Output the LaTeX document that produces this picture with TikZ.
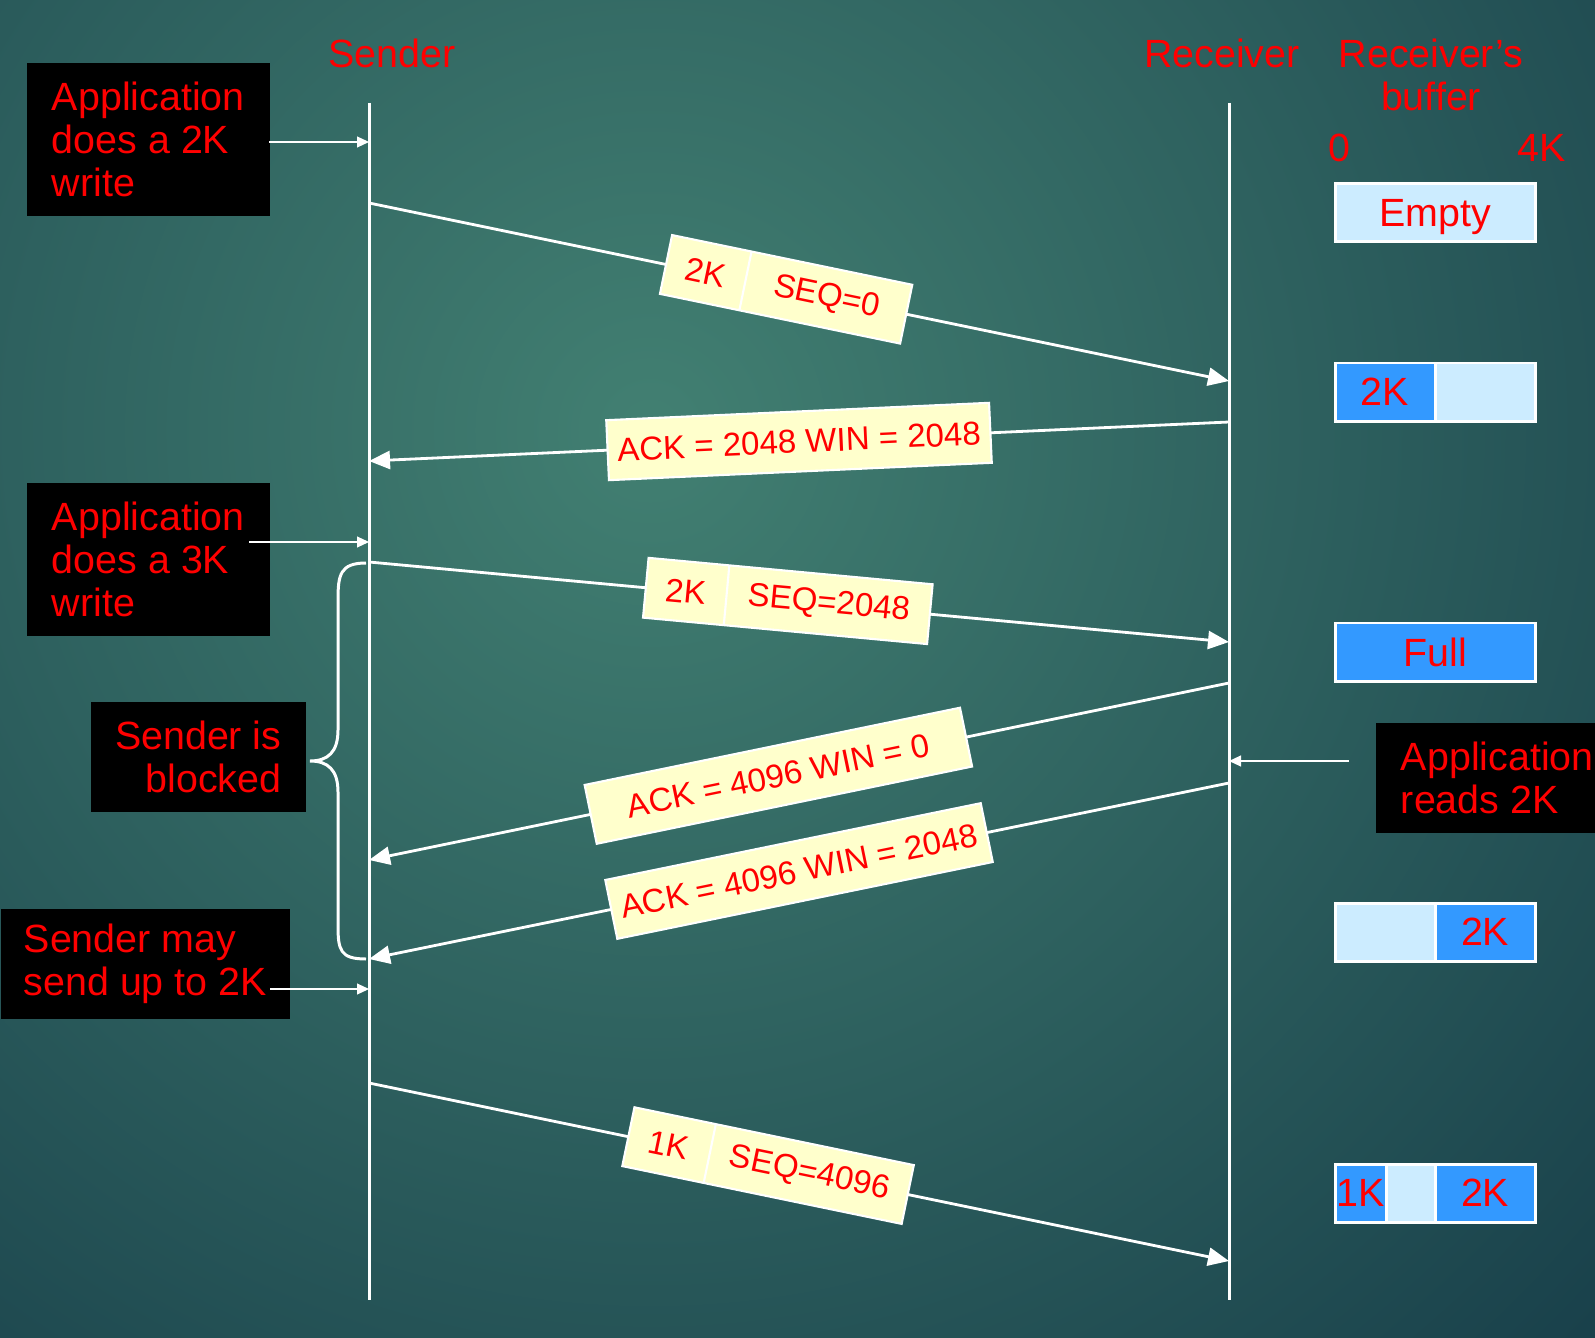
\documentclass[tikz,border=0pt]{standalone}
\usepackage{fontspec}
\setmainfont{Liberation Sans}
\usepackage{tikz}
\usetikzlibrary{arrows.meta,positioning,shapes.multipart}
\definecolor{bginner}{RGB}{66,128,114}
\definecolor{bgouter}{RGB}{22,60,72}
\definecolor{pktyellow}{RGB}{255,255,204}
\definecolor{bufempty}{RGB}{204,236,255}
\definecolor{buffull}{RGB}{51,153,255}
\newcommand{\bigfont}{\fontsize{11.2}{12.2}\selectfont}
\newcommand{\pktfont}{\fontsize{9.4}{10}\selectfont}
\tikzstyle{lifeline}=[white,line width=0.85pt]
\tikzstyle{msg}=[white,line width=0.8pt,-{Triangle[length=0.21cm,width=0.18cm]}]
\tikzstyle{apparrow}=[white,line width=0.3pt,-{Triangle[length=0.12cm,width=0.11cm]}]
\tikzstyle{appbox}=[fill=black,text=red,font=\bigfont,inner sep=0pt,anchor=north west]
\tikzstyle{heading}=[text=red,font=\bigfont,inner sep=0pt]
\tikzstyle{ackbox}=[fill=pktyellow,draw=white,line width=0.6pt,text=red,font=\pktfont,
                    inner sep=0pt,minimum width=3.83cm,minimum height=0.6cm,sloped]
\tikzstyle{pkt}=[rectangle split,rectangle split horizontal,rectangle split parts=2,
                 fill=pktyellow,draw=white,line width=0.6pt,text=red,font=\pktfont,
                 inner sep=0pt,minimum height=0.6cm,sloped]
\tikzstyle{bufcell}=[draw=white,line width=0.85pt,text=red,font=\bigfont,inner sep=0pt,
                     outer sep=0pt,text depth=0pt,minimum height=0.58cm,anchor=north west]

\begin{document}
\begin{tikzpicture}[x=0.01cm,y=-0.01cm]
  \useasboundingbox (0,0) rectangle (1595,1337);
  \clip (0,0) rectangle (1595,1337);
  \fill[bgouter] (0,0) rectangle (1595,1337);
  \shade[inner color=bginner,outer color=bgouter] (650,430) circle (14cm);

  % time lines
  \coordinate (sTop) at (369,103);
  \coordinate (sBot) at (369,1300);
  \coordinate (rTop) at (1229,103);
  \coordinate (rBot) at (1229,1300);
  \draw[lifeline] (sTop) -- (sBot);
  \draw[lifeline] (rTop) -- (rBot);

  \node[heading] (sendertitle) at (392,53) {Sender};
  \node[heading] (recvtitle) at (1222,53) {Receiver};
  \node[heading,align=center] (buftitle) at (1431,75) {Receiver’s\\buffer};
  \node[heading] (zero) at (1339,148) {0};
  \node[heading] (fourk) at (1542,148) {4K};

  % segments and acks
  \coordinate (m1s) at (369,203);  \coordinate (m1r) at (1229,381);
  \coordinate (m2r) at (1229,422); \coordinate (m2s) at (369,461);
  \coordinate (m3s) at (369,562);  \coordinate (m3r) at (1229,642);
  \coordinate (m4r) at (1229,683); \coordinate (m4s) at (369,860);
  \coordinate (m5r) at (1229,783); \coordinate (m5s) at (369,959);
  \coordinate (m6s) at (369,1083); \coordinate (m6r) at (1229,1261);

  \draw[msg] (m1s) -- node[pkt,pos=0.485] (seq0)
    {\makebox[0.8cm]{2K}\nodepart{two}\makebox[1.63cm]{SEQ=0}} (m1r);
  \draw[msg] (m2r) -- node[ackbox,pos=0.5] (ack1) {ACK = 2048 WIN = 2048} (m2s);
  \draw[msg] (m3s) -- node[pkt,pos=0.487] (seq2048)
    {\makebox[0.8cm]{2K}\nodepart{two}\makebox[2.03cm]{SEQ=2048}} (m3r);
  \draw[msg] (m4r) -- node[ackbox,pos=0.524] (ack2) {ACK = 4096 WIN = 0} (m4s);
  \draw[msg] (m5r) -- node[ackbox,pos=0.5] (ack3) {ACK = 4096 WIN = 2048} (m5s);
  \draw[msg] (m6s) -- node[pkt,pos=0.464] (seq4096)
    {\makebox[0.82cm]{1K}\nodepart{two}\makebox[2.01cm]{SEQ=4096}} (m6r);

  % brace
  \draw[white,line width=0.85pt] (366,563) .. controls (340,563) and (338,575) .. (338,600)
    -- (338,730) .. controls (338,752) and (328,761) .. (310,761)
    .. controls (328,761) and (338,770) .. (338,792)
    -- (338,925) .. controls (338,950) and (340,959) .. (366,959);

  % application boxes
  \node[appbox,minimum width=2.43cm,minimum height=1.53cm,align=left] (write2k) at (26,62)
    {Application\\does a 2K\\write};
  \node[appbox,minimum width=2.43cm,minimum height=1.53cm,align=left] (write3k) at (26,482)
    {Application\\does a 3K\\write};
  \node[appbox,minimum width=2.15cm,minimum height=1.10cm,align=right] (blocked) at (90,701)
    {Sender is\\blocked};
  \node[appbox,minimum width=2.89cm,minimum height=1.10cm,align=left] (maysend) at (0,908)
    {Sender may\\send up to 2K};
  \node[appbox,minimum width=2.43cm,minimum height=1.10cm,align=left] (reads2k) at (1375,722)
    {Application\\reads 2K};

  \coordinate (a2k) at (269,142);
  \coordinate (a3k) at (249,542);
  \coordinate (amay) at (270,989);
  \coordinate (aread) at (1349,761);
  \draw[apparrow] (a2k) -- (a2k -| sTop);
  \draw[apparrow] (a3k) -- (a3k -| sTop);
  \draw[apparrow] (amay) -- (amay -| sTop);
  \draw[apparrow] (aread) -- (aread -| rTop);

  % receiver buffer
  \node[bufcell,fill=bufempty,minimum width=2cm] (empty) at (1335,183.5) {Empty};
  \node[bufcell,fill=buffull,minimum width=1cm] (buf2a) at (1335,363) {2K};
  \node[bufcell,fill=bufempty,minimum width=1cm,right=0pt of buf2a] (buf2b) {};
  \node[bufcell,fill=buffull,minimum width=2cm] (full) at (1335,623) {Full};
  \node[bufcell,fill=bufempty,minimum width=1cm] (buf4a) at (1335,903) {};
  \node[bufcell,fill=buffull,minimum width=1cm,right=0pt of buf4a] (buf4b) {2K};
  \node[bufcell,fill=buffull,minimum width=0.51cm] (buf5a) at (1335,1164) {1K};
  \node[bufcell,fill=bufempty,minimum width=0.49cm,right=0pt of buf5a] (buf5b) {};
  \node[bufcell,fill=buffull,minimum width=1cm,right=0pt of buf5b] (buf5c) {2K};
\end{tikzpicture}
\end{document}
